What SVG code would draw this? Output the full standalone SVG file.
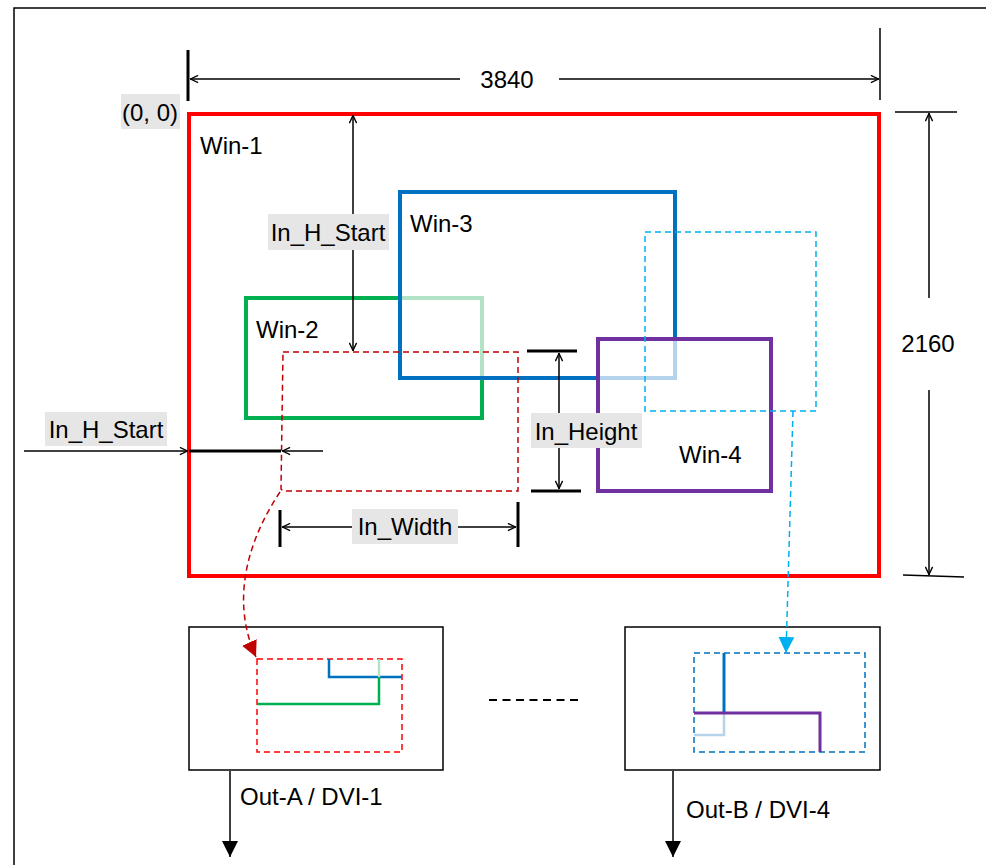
<svg xmlns="http://www.w3.org/2000/svg" width="986" height="865" viewBox="0 0 986 865">
<style>
text{font-family:"Liberation Sans",Arial,sans-serif;font-size:24px;fill:#000}
.lbl{fill:#E6E6E6}
.dim{stroke:#000;stroke-width:1.5;fill:none}
.tick{stroke:#000;stroke-width:3;fill:none}
</style>
<defs>
<marker id="open" viewBox="0 0 10 10" refX="10" refY="5" markerWidth="9" markerHeight="9" markerUnits="userSpaceOnUse" orient="auto-start-reverse">
<path d="M1,1 L9.5,5 L1,9" fill="none" stroke="#000" stroke-width="1.5"/>
</marker>
<marker id="blk" viewBox="0 0 10 10" refX="10" refY="5" markerWidth="16" markerHeight="16" markerUnits="userSpaceOnUse" orient="auto">
<path d="M0,0 L10,5 L0,10 Z" fill="#000"/>
</marker>
<marker id="red" viewBox="0 0 10 10" refX="10" refY="5" markerWidth="16" markerHeight="16" markerUnits="userSpaceOnUse" orient="auto">
<path d="M0,0 L10,5 L0,10 Z" fill="#C00000"/>
</marker>
<marker id="cyan" viewBox="0 0 10 10" refX="10" refY="5" markerWidth="16" markerHeight="16" markerUnits="userSpaceOnUse" orient="auto">
<path d="M0,0 L10,5 L0,10 Z" fill="#00B0F0"/>
</marker>
</defs>
<rect width="986" height="865" fill="#fff"/>
<!-- outer frame -->
<path d="M14,865 V8 H986" fill="none" stroke="#000" stroke-width="1.5"/>

<!-- windows -->
<g id="win1">
<rect x="189" y="114" width="690" height="462" fill="none" stroke="#FF0000" stroke-width="4"/>
<text x="200" y="154">Win-1</text>
</g>
<g id="win2">
<path d="M400,298 H246 V418 H482 V378" fill="none" stroke="#00B050" stroke-width="4"/>
<path d="M400,298 H482 V378" fill="none" stroke="#B3E3C6" stroke-width="4"/>
<text x="256" y="338">Win-2</text>
</g>
<g id="win3">
<path d="M598,378 H400 V192 H675 V339" fill="none" stroke="#0070C0" stroke-width="4"/>
<path d="M598,378 H675 V339" fill="none" stroke="#B4D3EC" stroke-width="4"/>
<text x="410" y="232">Win-3</text>
</g>
<g id="win4">
<rect x="598" y="339" width="173" height="152" fill="none" stroke="#7030A0" stroke-width="4"/>
<text x="679" y="463">Win-4</text>
</g>
<g id="inA">
<path d="M283,352 H518 V491 H283 L281,489 Z" fill="none" stroke="#C00000" stroke-width="1.5" stroke-dasharray="6,4"/>
</g>
<g id="inB">
<rect x="645" y="232" width="171" height="179" fill="none" stroke="#00B0F0" stroke-width="1.5" stroke-dasharray="6,4"/>
</g>

<!-- output boxes -->
<g id="outA">
<rect x="189" y="627" width="254" height="143" fill="none" stroke="#000" stroke-width="1.5"/>
<rect x="257" y="659" width="145" height="93" fill="none" stroke="#FF0000" stroke-width="1.5" stroke-dasharray="6,4"/>
<path d="M329,659 V677 H402" fill="none" stroke="#0070C0" stroke-width="2.5"/>
<path d="M257,704 H379 V677" fill="none" stroke="#00B050" stroke-width="2.5"/>
<path d="M379,677 V659" fill="none" stroke="#B3E3C6" stroke-width="2.5"/>
<text x="240" y="805">Out-A / DVI-1</text>
</g>
<g id="outB">
<rect x="625" y="627" width="255" height="143" fill="none" stroke="#000" stroke-width="1.5"/>
<rect x="694" y="653" width="171" height="99" fill="none" stroke="#0070C0" stroke-width="1.5" stroke-dasharray="6,4"/>
<path d="M724,713 V735 H694" fill="none" stroke="#B4D3EC" stroke-width="2.5"/>
<path d="M724,653 V713" fill="none" stroke="#0070C0" stroke-width="3"/>
<path d="M694,713 H820 V752" fill="none" stroke="#7030A0" stroke-width="3"/>
<text x="686" y="818">Out-B / DVI-4</text>
</g>

<!-- dimension labels -->
<g id="labels">
<rect class="lbl" x="121" y="94" width="59" height="35"/>
<text x="122" y="121">(0, 0)</text>
<text x="507" y="88" text-anchor="middle">3840</text>
<text x="928" y="352" text-anchor="middle">2160</text>
</g>

<g id="connectors">
<!-- 3840 -->
<line class="tick" x1="188" y1="50" x2="188" y2="101"/>
<line class="dim" x1="880" y1="28" x2="880" y2="100"/>
<line class="dim" x1="190" y1="79" x2="460" y2="79" marker-start="url(#open)"/>
<line class="dim" x1="559" y1="79" x2="879" y2="79" marker-end="url(#open)"/>
<!-- 2160 -->
<line class="dim" x1="895" y1="112" x2="957" y2="112"/>
<line class="dim" x1="929" y1="113" x2="929" y2="298" marker-start="url(#open)"/>
<line class="dim" x1="929" y1="390" x2="929" y2="575" marker-end="url(#open)"/>
<line class="dim" x1="903" y1="575" x2="964" y2="577"/>
<!-- vertical In_H_Start -->
<line class="dim" x1="353" y1="115" x2="353" y2="351" marker-start="url(#open)" marker-end="url(#open)"/>
<!-- horizontal In_H_Start -->
<line class="dim" x1="24" y1="451" x2="188" y2="451" marker-end="url(#open)"/>
<line class="tick" x1="189" y1="451" x2="281" y2="451"/>
<line class="dim" x1="323" y1="451" x2="282" y2="451" marker-end="url(#open)"/>
<!-- In_Height -->
<line class="tick" x1="527" y1="351" x2="577" y2="351"/>
<line class="tick" x1="531" y1="491" x2="581" y2="491"/>
<line class="dim" x1="559" y1="353" x2="559" y2="489" marker-start="url(#open)" marker-end="url(#open)"/>
<!-- In_Width -->
<line class="tick" x1="280" y1="510" x2="280" y2="547"/>
<line class="tick" x1="518" y1="502" x2="518" y2="547"/>
<line class="dim" x1="282" y1="527" x2="516" y2="527" marker-start="url(#open)" marker-end="url(#open)"/>
<!-- mapping curves -->
<path d="M280,492 C248,540 230,600 256,657" fill="none" stroke="#C00000" stroke-width="1.5" stroke-dasharray="6,4" marker-end="url(#red)"/>
<path d="M793,411 L786,653" fill="none" stroke="#00B0F0" stroke-width="1.5" stroke-dasharray="6,4" marker-end="url(#cyan)"/>
<!-- outputs -->
<line x1="230" y1="771" x2="230" y2="857" stroke="#000" stroke-width="1.5" marker-end="url(#blk)"/>
<line x1="673" y1="771" x2="673" y2="857" stroke="#000" stroke-width="1.5" marker-end="url(#blk)"/>
<line x1="489" y1="700" x2="581" y2="700" stroke="#000" stroke-width="2" stroke-dasharray="8,5.5"/>
</g>

<g id="dimlabels">
<rect class="lbl" x="268" y="214" width="121" height="36"/>
<text x="328" y="241" text-anchor="middle">In_H_Start</text>
<rect class="lbl" x="45" y="412" width="122" height="34"/>
<text x="106" y="438" text-anchor="middle">In_H_Start</text>
<rect class="lbl" x="531" y="413" width="111" height="35"/>
<text x="586" y="440" text-anchor="middle">In_Height</text>
<rect class="lbl" x="352" y="509" width="106" height="35"/>
<text x="405" y="535" text-anchor="middle">In_Width</text>
</g>
</svg>
